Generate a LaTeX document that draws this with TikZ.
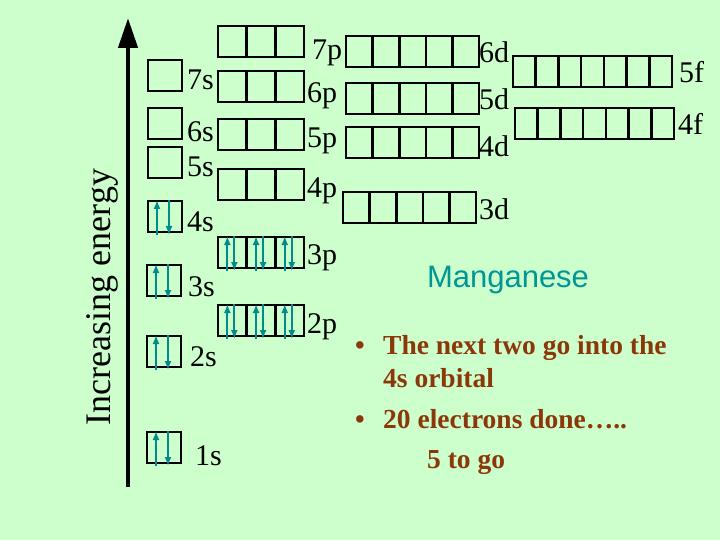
\documentclass[tikz,border=0pt]{standalone}
\usepackage{fontspec}
\setmainfont{Liberation Serif}
\newfontfamily\arialfont{Liberation Sans}
\usetikzlibrary{arrows.meta}
\definecolor{slidebg}{RGB}{204,255,204}
\definecolor{elteal}{RGB}{0,140,140}
\definecolor{mnteal}{RGB}{0,150,150}
\definecolor{notebrown}{RGB}{140,55,10}

\begin{document}
\begin{tikzpicture}[x=1pt, y=-1pt,
    orb/.style={rectangle, draw, line width=2.6pt, minimum height=31pt, inner sep=0pt, outer sep=0pt},
    lbl/.style={anchor=base west, inner sep=0pt, font=\fontsize{30}{36}\selectfont},
    eup/.style={-{Latex[length=9pt,width=7pt]}, elteal, line width=2pt, shorten <=-3pt, shorten >=-1pt},
    edown/.style={-{Latex[length=9pt,width=7pt]}, elteal, line width=2pt, shorten <=-1pt, shorten >=-3pt},
    energy/.style={-{Triangle[length=30pt,width=19pt]}, line width=4.5pt},
    note/.style={anchor=base west, inner sep=0pt, text=notebrown, font=\bfseries\fontsize{27.5}{33}\selectfont}
]

% Slide background
\fill[slidebg] (0,0) rectangle (720,540);
\useasboundingbox (0,0) rectangle (720,540);

% Energy axis
\coordinate (ebot) at (128,487);
\coordinate (etop) at (128,18);
\draw[energy] (ebot) -- (etop);
\node[rotate=90, inner sep=0pt, font=\fontsize{36}{40}\selectfont] (elbl) at (102,297) {Increasing energy};

% Orbital rows: name / left / top / boxes / box width / label / label x / label baseline
\foreach \nm/\bx/\by/\n/\w/\txt/\tx/\tb in {
    s7/148/60/1/34/7s/187/90, s6/148/108/1/34/6s/187/142,
    s5/148/147/1/34/5s/187/177, s4/148/201/1/34/4s/187/231,
    s3/147/265/1/34/3s/188/296, s2/147/336/1/34/2s/190/366,
    s1/147/432/1/34/1s/195/465,
    p7/218/26/3/28.7/7p/312/60, p6/218/71/3/28.7/6p/307/103,
    p5/218/119/3/28.7/5p/307/148, p4/218/169/3/28.7/4p/307/197,
    p3/218/237/3/28.7/3p/307/264, p2/218/305/3/28.7/2p/307/333,
    d6/346/36/5/26.6/6d/479/63, d5/346/83/5/26.6/5d/479/110,
    d4/346/127/5/26.6/4d/479/157, d3/343/192/5/26.6/3d/479/219,
    f5/513/56/7/22.7/5f/679/83, f4/515/108/7/22.7/4f/678/135}{
  \foreach \k in {1,...,\n}
    \node[orb, minimum width=\w pt] (\nm-\k) at ({\bx+(\k-0.5)*\w},{\by+15.5}) {};
  \node[lbl] (\nm-t) at (\tx,\tb) {\txt};
}

% Filled orbitals (paired electrons)
\foreach \b in {s4-1, s3-1, s2-1, s1-1} {
  \draw[eup] ([xshift=-8pt]\b.south) -- ([xshift=-8pt]\b.north);
  \draw[edown] ([xshift=4pt]\b.north) -- ([xshift=4pt]\b.south);
}
\foreach \b in {p3-1, p3-2, p3-3, p2-1, p2-2, p2-3} {
  \draw[eup] ([xshift=-5pt]\b.south) -- ([xshift=-5pt]\b.north);
  \draw[edown] ([xshift=2pt]\b.north) -- ([xshift=2pt]\b.south);
}

% Title
\node[anchor=base, inner sep=0pt, text=mnteal, font=\arialfont\fontsize{31}{36}\selectfont] (mn) at (508,287) {Manganese};

% Notes
\node[note] (b1) at (355,354) {•};
\node[note] (t1) at (383,354) {The next two go into the};
\node[note] (t2) at (383,387) {4s orbital};
\node[note] (b2) at (355,428) {•};
\node[note] (t3) at (383,428) {20 electrons done…..};
\node[note] (t4) at (427,468) {5 to go};

\end{tikzpicture}
\end{document}
